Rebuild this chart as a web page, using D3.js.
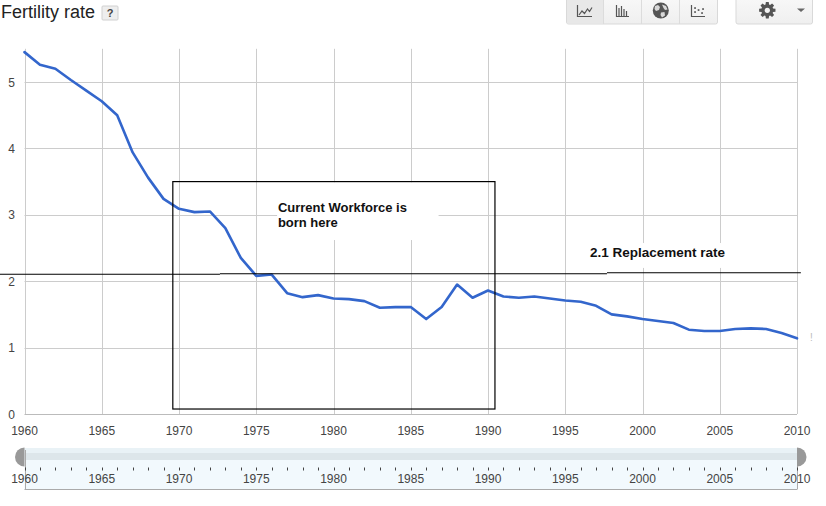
<!DOCTYPE html>
<html>
<head>
<meta charset="utf-8">
<script src="https://cdn.jsdelivr.net/npm/d3@7"></script>
<style>
  html, body { margin: 0; padding: 0; background: #fff; }
  svg { display: block; font-family: Arial, "Liberation Sans", sans-serif; }
</style>
</head>
<body>
<svg id="chart" width="826" height="506"></svg>
<script>
// ---------------- data ----------------
const years = [1960,1961,1962,1963,1964,1965,1966,1967,1968,1969,
               1970,1971,1972,1973,1974,1975,1976,1977,1978,1979,
               1980,1981,1982,1983,1984,1985,1986,1987,1988,1989,
               1990,1991,1992,1993,1994,1995,1996,1997,1998,1999,
               2000,2001,2002,2003,2004,2005,2006,2007,2008,2009,2010];
const fertility = [5.45,5.26,5.20,5.03,4.87,4.71,4.50,3.94,3.56,3.24,
                   3.09,3.04,3.05,2.80,2.35,2.08,2.10,1.82,1.76,1.79,
                   1.74,1.73,1.70,1.60,1.61,1.61,1.43,1.61,1.95,1.75,
                   1.86,1.77,1.75,1.77,1.74,1.71,1.69,1.63,1.50,1.47,
                   1.43,1.40,1.37,1.27,1.25,1.25,1.28,1.29,1.28,1.22,1.14];
const xTicks = [1960,1965,1970,1975,1980,1985,1990,1995,2000,2005,2010];
const yTicks = [0,1,2,3,4,5];
// annotations (data units)
const workforceBox = [1969.6, 1990.45, 0.075, 3.5];      // x0, x1, yBottom, yTop
const workforceLabel = ["Current Workforce is", "born here"];
const workforceLabelPos = [1976.4, 3.04, 2.81];           // x, line1 y, line2 y
const workforceLabelBg = [1976.35, 1986.8, 2.62, 3.49];
const replacementSegments = [[1958.4, 1972.65, 2.105], [1972.65, 1997.7, 2.112], [1997.7, 2010.25, 2.127]];
const replacementLabel = "2.1 Replacement rate";
const replacementLabelPos = [1996.6, 2.36];
const replacementLabelBg = [1996.1, 2005.7, 2.2, 2.575];

// ---------------- scales ----------------
const svg = d3.select("#chart");
const x = d3.scaleLinear().domain([1960, 2010]).range([24.5, 797]);
const y = d3.scaleLinear().domain([0, 5.5]).range([414, 48.8]);

// ---------------- title + help ----------------
svg.append("text").attr("x", 1).attr("y", 18).attr("font-size", 18).attr("fill", "#222").text("Fertility rate");
svg.append("rect").attr("x", 102).attr("y", 6).attr("width", 16).attr("height", 14).attr("rx", 1)
  .attr("fill", "#eeeeee").attr("stroke", "#d0d0d0");
svg.append("text").attr("x", 110).attr("y", 17).attr("text-anchor", "middle").attr("font-size", 11)
  .attr("font-weight", "bold").attr("fill", "#444").text("?");

// ---------------- toolbar ----------------
const defs = svg.append("defs");
const g1 = defs.append("linearGradient").attr("id", "btn").attr("x1", 0).attr("y1", 0).attr("x2", 0).attr("y2", 1);
g1.append("stop").attr("offset", "0%").attr("stop-color", "#f8f8f8");
g1.append("stop").attr("offset", "100%").attr("stop-color", "#efefef");
const tb = svg.append("g");
tb.append("rect").attr("x", 566.5).attr("y", -3).attr("width", 151).attr("height", 27).attr("rx", 2)
  .attr("fill", "url(#btn)").attr("stroke", "#d9d9d9");
tb.append("rect").attr("x", 567).attr("y", -2).attr("width", 36).attr("height", 25.5).attr("fill", "#e8e8e8");
[603.5, 641.5, 679.5].forEach(d => tb.append("line").attr("x1", d).attr("x2", d).attr("y1", 0).attr("y2", 24)
  .attr("stroke", "#dcdcdc"));
// line icon
tb.append("path").attr("d", "M577.5,5 V16.5 H592").attr("fill", "none").attr("stroke", "#555").attr("stroke-width", 1.2);
tb.append("path").attr("d", "M579,15 L582,11 L584.5,13.5 L587.5,9 L589.5,11.5 L592,7.5").attr("fill", "none")
  .attr("stroke", "#555").attr("stroke-width", 1.2);
// bar icon
tb.append("path").attr("d", "M616.5,5 V16.5 H629 M619,16 V8 M621.5,16 V6 M624,16 V9 M626.5,16 V11")
  .attr("fill", "none").attr("stroke", "#555").attr("stroke-width", 1.2);
// globe icon
tb.append("circle").attr("cx", 660.8).attr("cy", 10.5).attr("r", 8).attr("fill", "#555");
tb.append("path").attr("d", "M655,6 L658,5 L660,7 L659,10 L656,11 L654.5,9 Z M662,4.5 L666,6 L667.5,9.5 L665,10 L663.5,8 Z M661,12.5 L664.5,12 L665,15.5 L662,17.5 L660.5,15 Z")
  .attr("fill", "#d8d8d8");
// scatter icon
tb.append("path").attr("d", "M691.5,5 V16.5 H705").attr("fill", "none").attr("stroke", "#555").attr("stroke-width", 1.2);
[[695, 8], [695, 12], [698.5, 10], [702, 13], [703, 9]].forEach(p =>
  tb.append("rect").attr("x", p[0] - 0.8).attr("y", p[1] - 0.8).attr("width", 1.7).attr("height", 1.7).attr("fill", "#555"));
// gear button
tb.append("rect").attr("x", 736).attr("y", -3).attr("width", 76.5).attr("height", 27).attr("rx", 2)
  .attr("fill", "url(#btn)").attr("stroke", "#d9d9d9");
(function gear(cx, cy) {
  const pts = [];
  const teeth = 8, rO = 8.3, rI = 6;
  for (let i = 0; i < teeth; i++) {
    const a = (i / teeth) * 2 * Math.PI;
    const w = Math.PI / teeth * 0.55;
    pts.push([cx + rI * Math.cos(a - w * 1.4), cy + rI * Math.sin(a - w * 1.4)]);
    pts.push([cx + rO * Math.cos(a - w * 0.8), cy + rO * Math.sin(a - w * 0.8)]);
    pts.push([cx + rO * Math.cos(a + w * 0.8), cy + rO * Math.sin(a + w * 0.8)]);
    pts.push([cx + rI * Math.cos(a + w * 1.4), cy + rI * Math.sin(a + w * 1.4)]);
  }
  tb.append("path").attr("d", "M" + pts.map(p => p.join(",")).join("L") + "Z").attr("fill", "#555");
  tb.append("circle").attr("cx", cx).attr("cy", cy).attr("r", 2.6).attr("fill", "#f4f4f4");
})(767.3, 10.3);
tb.append("path").attr("d", "M797,8.5 L805,8.5 L801,12 Z").attr("fill", "#666");

// ---------------- grid ----------------
const grid = svg.append("g");
grid.selectAll("line.v").data(xTicks).join("line")
  .attr("x1", d => Math.round(x(d)) + 0.5).attr("x2", d => Math.round(x(d)) + 0.5)
  .attr("y1", y(5.5)).attr("y2", y(0)).attr("stroke", "#cccccc");
grid.selectAll("line.h").data(yTicks).join("line")
  .attr("x1", x(1960)).attr("x2", x(2010))
  .attr("y1", d => Math.round(y(d)) + 0.5).attr("y2", d => Math.round(y(d)) + 0.5)
  .attr("stroke", d => d === 0 ? "#bbbbbb" : "#cccccc");

// y labels
svg.selectAll("text.yl").data(yTicks).join("text")
  .attr("x", 11.5).attr("y", d => y(d) + 4.5).attr("text-anchor", "middle")
  .attr("font-size", 12).attr("fill", "#444").text(d => d);
// x labels
svg.selectAll("text.xl").data(xTicks).join("text")
  .attr("x", d => x(d)).attr("y", 435).attr("text-anchor", "middle")
  .attr("font-size", 12).attr("fill", "#444").text(d => d);

// ---------------- annotation backgrounds ----------------
const bgs = [workforceLabelBg, replacementLabelBg];
svg.selectAll("rect.bg").data(bgs).join("rect")
  .attr("x", d => x(d[0])).attr("width", d => x(d[1]) - x(d[0]))
  .attr("y", d => y(d[3])).attr("height", d => y(d[2]) - y(d[3])).attr("fill", "#fff");

// ---------------- data line ----------------
const pts = years.map((yr, i) => [yr, fertility[i]]);
svg.append("path").datum(pts)
  .attr("d", d3.line().x(d => x(d[0])).y(d => y(d[1])))
  .attr("fill", "none").attr("stroke", "#3366cc").attr("stroke-width", 2.6)
  .attr("stroke-linejoin", "round").attr("stroke-linecap", "round");
svg.append("text").attr("x", 810).attr("y", 341).attr("font-size", 10).attr("fill", "#bbb").text("!");

// ---------------- annotations ----------------
svg.append("rect")
  .attr("x", x(workforceBox[0])).attr("width", x(workforceBox[1]) - x(workforceBox[0]))
  .attr("y", y(workforceBox[3])).attr("height", y(workforceBox[2]) - y(workforceBox[3]))
  .attr("fill", "none").attr("stroke", "#000").attr("stroke-width", 1.2);
svg.selectAll("line.rep").data(replacementSegments).join("line")
  .attr("x1", d => x(d[0])).attr("x2", d => x(d[1]))
  .attr("y1", d => y(d[2])).attr("y2", d => y(d[2]))
  .attr("stroke", "#000").attr("stroke-width", 1.2);
svg.selectAll("text.wf").data(workforceLabel).join("text")
  .attr("x", x(workforceLabelPos[0])).attr("y", (d, i) => y(workforceLabelPos[i + 1]))
  .attr("font-size", 13).attr("font-weight", "bold").attr("fill", "#111").text(d => d);
svg.append("text").attr("x", x(replacementLabelPos[0])).attr("y", y(replacementLabelPos[1]))
  .attr("font-size", 13.5).attr("font-weight", "bold").attr("fill", "#111").text(replacementLabel);

// ---------------- range slider ----------------
const sl = svg.append("g");
const sx0 = x(1960), sx1 = x(2010);
sl.append("rect").attr("x", sx0).attr("y", 448).attr("width", sx1 - sx0).attr("height", 41).attr("fill", "#f2f9fd");
sl.append("rect").attr("x", sx0).attr("y", 448).attr("width", sx1 - sx0).attr("height", 5).attr("fill", "#e9f2f6");
sl.append("rect").attr("x", sx0).attr("y", 453).attr("width", sx1 - sx0).attr("height", 7).attr("fill", "#dde6ea");
sl.append("line").attr("x1", sx0).attr("x2", sx1).attr("y1", 489.5).attr("y2", 489.5).attr("stroke", "#aaa");
[sx0, sx1].forEach(v => sl.append("line").attr("x1", Math.round(v) + 0.5).attr("x2", Math.round(v) + 0.5)
  .attr("y1", 450).attr("y2", 489.5).attr("stroke", "#aaa"));
sl.selectAll("line.tk").data(years).join("line")
  .attr("x1", d => Math.round(x(d)) + 0.5).attr("x2", d => Math.round(x(d)) + 0.5)
  .attr("y1", 467.5).attr("y2", 470.5).attr("stroke", "#444");
sl.selectAll("text.sl").data(xTicks).join("text")
  .attr("x", d => x(d)).attr("y", 483).attr("text-anchor", "middle")
  .attr("font-size", 12).attr("fill", "#444").text(d => d);
const r = 9.5, cy = 457;
sl.append("path").attr("d", `M${sx0},${cy - r} A${r},${r} 0 0 0 ${sx0},${cy + r} Z`).attr("fill", "#999");
sl.append("path").attr("d", `M${sx1},${cy - r} A${r},${r} 0 0 1 ${sx1},${cy + r} Z`).attr("fill", "#999");
</script>
</body>
</html>
